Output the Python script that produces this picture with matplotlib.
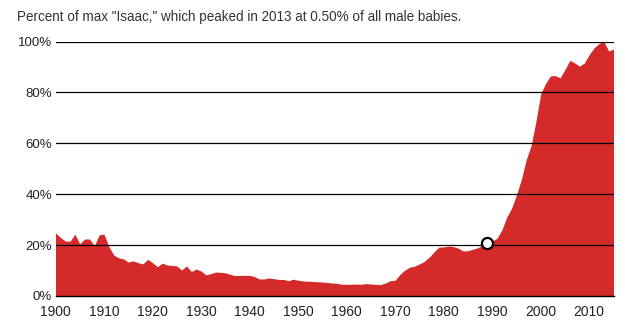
import matplotlib
matplotlib.use("Agg")
import matplotlib.pyplot as plt

plt.rcParams['font.family'] = ['Liberation Sans', 'DejaVu Sans']

years = list(range(1900, 2016))
# share of the 2013 peak, in percent
pct = [
    24.8, 23.0, 21.6, 21.5, 24.3, 20.5, 22.4, 22.4, 19.8, 24.0,  # 1900s
    24.3, 19.4, 16.1, 15.0, 14.6, 13.3, 13.8, 13.1, 12.6, 14.4,  # 1910s
    13.1, 11.5, 12.9, 12.2, 12.0, 11.8, 10.2, 11.8, 9.6, 10.6,   # 1920s
    9.8, 8.3, 8.8, 9.4, 9.3, 9.1, 8.5, 8.0, 8.1, 8.1,            # 1930s
    8.1, 7.6, 6.7, 6.7, 7.1, 6.8, 6.5, 6.5, 6.0, 6.6,            # 1940s
    6.2, 5.9, 5.8, 5.7, 5.6, 5.5, 5.3, 5.1, 5.0, 4.6,            # 1950s
    4.6, 4.6, 4.7, 4.6, 4.9, 4.7, 4.6, 4.5, 5.1, 6.0,            # 1960s
    6.2, 8.5, 10.2, 11.3, 11.7, 12.6, 13.6, 15.2, 17.3, 19.2,    # 1970s
    19.3, 19.6, 19.4, 18.8, 17.7, 17.8, 18.4, 18.9, 20.0, 21.0,  # 1980s
    21.6, 22.7, 26.0, 31.0, 34.5, 39.8, 45.7, 53.5, 59.0, 68.5,  # 1990s
    79.5, 83.5, 86.5, 86.6, 85.7, 89.0, 92.6, 91.6, 90.3, 91.6,  # 2000s
    94.9, 97.5, 99.2, 100.0, 96.3, 97.0,                         # 2010s
]
highlight_year = 1989

x_ticks = list(range(1900, 2020, 10))
y_ticks = [0, 20, 40, 60, 80, 100]

fig = plt.figure(figsize=(6.25, 3.34), dpi=100)
ax = fig.add_axes([0.0888, 0.1138, 0.8928, 0.7619])

ax.fill_between(years, pct, 0, color='#d42a2a', linewidth=0, zorder=1)

for v in y_ticks[1:]:
    ax.axhline(v, color='black', linewidth=0.9, zorder=2)

hi = years.index(highlight_year)
ax.plot(years[hi], pct[hi], 'o', ms=8, mfc='white', mec='black', mew=1.6, zorder=4)

ax.set_xlim(1900, 2015)
ax.set_ylim(0, 100)
ax.set_xticks(x_ticks)
ax.set_yticks(y_ticks)
ax.set_yticklabels([f"{v}%" for v in y_ticks])
ax.tick_params(axis='x', length=0, pad=6.5, labelsize=10, labelcolor='#222222')
ax.tick_params(axis='y', length=0, pad=2.5, labelsize=9.5, labelcolor='#222222')

for s in ['top', 'right', 'left']:
    ax.spines[s].set_visible(False)
ax.spines['bottom'].set_color('black')
ax.spines['bottom'].set_linewidth(1.0)
ax.spines['bottom'].set_zorder(3)

fig.text(17 / 625, 1 - 21.5 / 334,
         'Percent of max "Isaac," which peaked in 2013 at 0.50% of all male babies.',
         fontsize=9.75, color='#333333', ha='left', va='baseline')

fig.savefig('out.png', dpi=100)
